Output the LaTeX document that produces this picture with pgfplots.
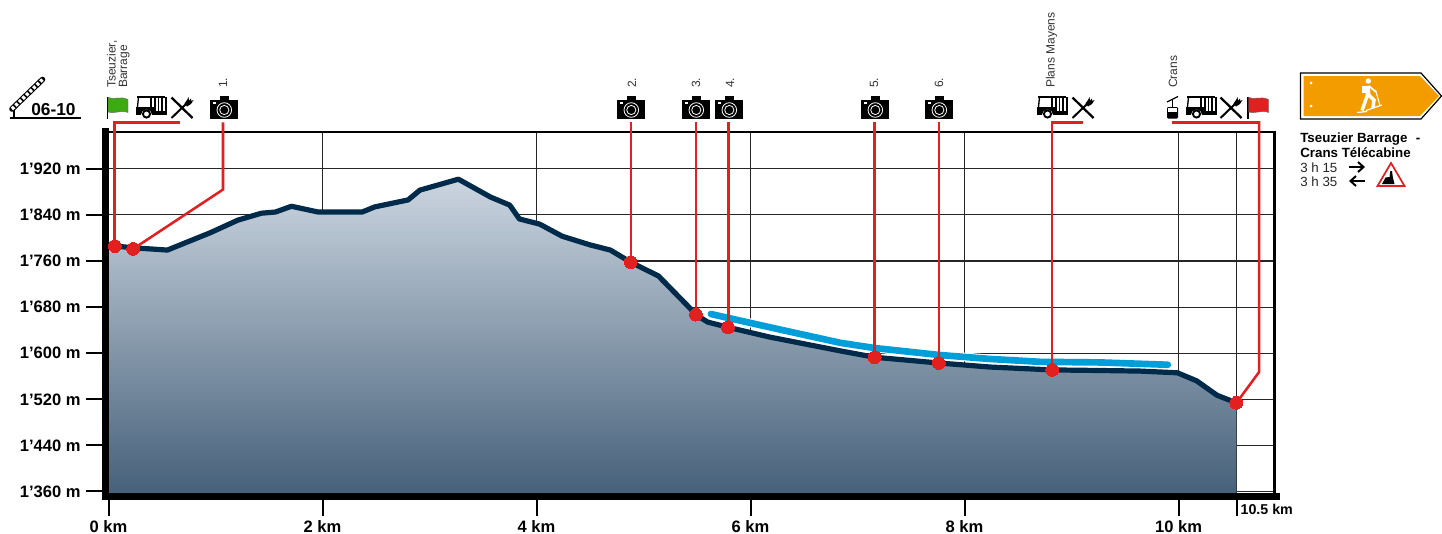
\documentclass[border=0pt]{standalone}
\usepackage{fontspec}
\setmainfont{Liberation Sans}
\usepackage{pgfplots}
\usepackage{pgfplotstable}
\pgfplotsset{compat=1.18}
\definecolor{navy}{HTML}{002A4A}
\definecolor{wblue}{HTML}{009FDA}
\definecolor{wred}{HTML}{E2201F}
\definecolor{topc}{HTML}{CBD5E0}
\definecolor{botc}{HTML}{456079}
\definecolor{signo}{HTML}{F39C00}
\definecolor{wgreen}{HTML}{3DAA12}
\pgfplotstableread{
km m
0 1788
0.06 1786
0.23 1783
0.55 1779
0.95 1809
1.21 1831
1.43 1843
1.56 1845
1.71 1855
1.96 1845
2.37 1845
2.49 1854
2.80 1866
2.91 1883
3.27 1902
3.57 1871
3.75 1857
3.84 1833
4.03 1824
4.24 1803
4.50 1788
4.69 1779
4.88 1758
5.14 1734
5.44 1677
5.48 1668
5.60 1654
5.79 1645
6.18 1628
6.84 1604
7.16 1593
7.76 1583
8.24 1576
8.82 1571
9.27 1570
9.64 1569
9.99 1566
10.17 1552
10.36 1527
10.54 1514
}\profile
\pgfplotstableread{
km m
5.63 1668
6.18 1645
6.84 1618
7.16 1609
7.76 1597
8.24 1590
8.71 1585
9.27 1584
9.90 1580
}\lake
\pgfplotstableread{
km m
0.06 1786
0.23 1781
4.88 1758
5.49 1667
5.79 1645
7.16 1593
7.76 1583
8.82 1571
10.54 1514
}\stops
\newcommand\camera[1]{\begin{scope}[shift={(#1,0)}]
\fill[black] (0,100) rectangle (28,119);
\fill[black] (9.5,96) rectangle (19,100.5);
\fill[white] (2.5,101.7) rectangle (6,104);
\draw[white,line width=.6pt] (14.3,110) circle (7.3) (14.3,110) circle (4.6);
\end{scope}}
\newcommand\bus[1]{\begin{scope}[shift={(#1,0)}]
\fill[black] (1,96) rectangle (29,98);
\draw[black,line width=1pt] (2.5,97) -- (1.5,107);
\fill[black] (0,106.5) rectangle (18,115);
\fill[black] (17,111) rectangle (30.5,115);
\foreach \q in {15,19,22.5,26,30}{\draw[black,line width=1pt] (\q,97) -- (\q,112);}
\fill[white] (10.5,115) circle (5.5);
\fill[black] (10.5,114) circle (4.6);
\fill[white] (10.5,114) circle (2.4);
\end{scope}}
\newcommand\cutlery[1]{\begin{scope}[shift={(#1,0)}]
\draw[black,line width=1.7pt] (0.5,97.5) -- (21.5,118);
\draw[black,line width=1.5pt] (0.5,118) -- (15,104);
\fill[black] (13.5,103.5) -- (16,100) -- (17.5,97) -- (18,100.5) -- (20,98.5) -- (20,101) -- (22.5,100) -- (20,104) -- (16,106.5) -- cycle;
\end{scope}}
\newcommand\flag[2]{\begin{scope}[shift={(#1,0)}]
\draw[black,line width=1pt] (0.5,97) -- (0.5,118.5);
\fill[#2,draw=black!60,line width=.3pt] (1,97.3) .. controls (6,100.5) and (13,95.5) .. (21,99.5) -- (21,112.5) .. controls (14,109.5) and (6,114.5) .. (1,112) -- cycle;
\end{scope}}
\begin{document}
\begin{tikzpicture}[x=0.75pt,y=-0.75pt]
\useasboundingbox (0,0) rectangle (1442,533);
\begin{axis}[
  at={(81.375pt,-372pt)},anchor=south west,
  scale only axis,width=874.5pt,height=273pt,
  xmin=0,xmax=10.897,ymin=1352.2,ymax=1983.9,
  clip=false,
  axis line style={draw=none},
  xtick pos=bottom,ytick pos=left,
  xtick={0,2,4,6,8,10},
  xticklabels={0 km,2 km,4 km,6 km,8 km,10 km},
  extra x ticks={10.54},
  extra x tick labels={10.5 km},
  extra x tick style={grid=major,xticklabel style={anchor=north west,xshift=3pt,yshift=12.3pt,font=\bfseries\fontsize{10.7pt}{12pt}\selectfont}},
  ytick={1360,1440,1520,1600,1680,1760,1840,1920},
  yticklabels={1’360 m,1’440 m,1’520 m,1’600 m,1’680 m,1’760 m,1’840 m,1’920 m},
  grid=major,
  grid style={black!85,line width=.8pt},
  tick align=outside,
  major tick length=15pt,
  tick label style={font=\bfseries\fontsize{12.4pt}{14pt}\selectfont},
  xticklabel style={inner sep=0pt,yshift=-3pt},
  yticklabel style={inner sep=0pt,xshift=-5.8pt},
]
\draw[black,line width=1.6pt] (axis cs:0,1983.9) -- (axis cs:10.897,1983.9) -- (axis cs:10.897,1352);
\addplot[draw=none,top color=topc,bottom color=botc] table[x=km,y=m]{\profile} \closedcycle;
\addplot[black,line width=5.25pt,forget plot] coordinates {(-0.028,1991.7) (-0.028,1345.2)};
\addplot[black,line width=5.6pt,forget plot] coordinates {(-0.061,1351.5) (10.948,1351.5)};
\addplot[white,line width=6.6pt,line cap=round] table[x=km,y=m]{\lake};
\addplot[navy,line width=3.9pt,line join=round] table[x=km,y=m]{\profile};
\addplot[wblue,line width=5pt,line cap=round,line join=round] table[x=km,y=m]{\lake};
\addplot[wred,line width=1.9pt] coordinates {(0.668,2000.4) (0.056,2000.4) (0.056,1786)};
\addplot[wred,line width=1.9pt] coordinates {(1.07,2000.4) (1.07,1884) (0.23,1781)};
\addplot[wred,line width=1.9pt] coordinates {(4.883,2000.4) (4.883,1758)};
\addplot[wred,line width=1.9pt] coordinates {(5.49,2000.4) (5.49,1667)};
\addplot[wred,line width=1.9pt] coordinates {(5.794,2000.4) (5.794,1645)};
\addplot[wred,line width=1.9pt] coordinates {(7.159,2000.4) (7.159,1593)};
\addplot[wred,line width=1.9pt] coordinates {(7.762,2000.4) (7.762,1583)};
\addplot[wred,line width=1.9pt] coordinates {(9.107,2000.4) (8.818,2000.4) (8.818,1571)};
\addplot[wred,line width=1.9pt] coordinates {(9.939,2000.4) (10.753,2000.4) (10.753,1567.4) (10.542,1514)};
\addplot[only marks,mark=*,mark size=4.8pt,mark options={fill=wred,draw=wred,line width=0pt}] table[x=km,y=m]{\stops};
\end{axis}
% axis tick marks
\foreach \q in {168.5,214.6,260.7,306.8,352.9,399,445.1,491.2}{\draw[black,line width=1.5pt] (86,\q) -- (103,\q);}
\foreach \q in {108.5,322.5,536.5,750.5,964.5,1178.5,1236.5}{\draw[black,line width=1.5pt] (\q,499) -- (\q,516);}
% barrier
\draw[black,line width=1.1pt] (10,118) -- (80.7,118);
\draw[black,line width=2.2pt] (14,108) -- (14,118);
\draw[black,line width=4.2pt,line cap=round] (12,109) -- (42.5,79.5);
\draw[white,line width=2.6pt,dash pattern=on 2.2pt off 1.5pt] (12,109) -- (42.5,79.5);
\node[anchor=base west,inner sep=0pt,font=\bfseries\fontsize{13pt}{14pt}\selectfont] at (31,115.5) {06-10};
% icons
\flag{107}{wgreen}
\bus{136}\cutlery{171}\camera{210}
\camera{617}\camera{682}\camera{715}\camera{861}\camera{925}
\bus{1037}\cutlery{1072}
\draw[black,line width=.9pt] (1167,102) -- (1178,96.5);
\draw[black,line width=.9pt] (1172.3,99) -- (1172.3,107);
\fill[black,rounded corners=.8pt] (1167,107) rectangle (1178,118.5);
\fill[white] (1168.2,108.2) rectangle (1176.8,111.5);
\bus{1186}\cutlery{1220}
\flag{1247.5}{wred}
% rotated labels
\tikzset{rl/.style={rotate=90,anchor=base west,inner sep=0pt,text=black!80,font=\fontsize{9pt}{10pt}\selectfont}}
\node[rl] at (115.7,88) {Tseuzier,};
\node[rl] at (127,88) {Barrage};
\node[rl] at (227,88) {1.};
\node[rl] at (636,88) {2.};
\node[rl] at (700,88) {3.};
\node[rl] at (734,88) {4.};
\node[rl] at (878,88) {5.};
\node[rl] at (943,88) {6.};
\node[rl] at (1054.5,88) {Plans Mayens};
\node[rl] at (1177,88) {Crans};
% sign
\draw[black,fill=white,line width=.9pt] (1300.5,73) -- (1421,73) -- (1441.5,96) -- (1421,119) -- (1300.5,119) -- cycle;
\fill[signo] (1303.5,76) -- (1420,76) -- (1439,96) -- (1420,116) -- (1303.5,116) -- cycle;
\fill[white] (1311,83) circle (1.5) (1311,106) circle (1.5);
\fill[white] (1368.3,81) circle (2.7);
\fill[white] (1361.5,85.5) rectangle (1365.5,93);
\draw[white,line width=3.6pt] (1367.5,86) -- (1368,95);
\draw[white,line width=1.3pt] (1369,86) -- (1376,92);
\draw[white,line width=.8pt] (1375.5,90) -- (1380,105.5);
\draw[white,line width=2.6pt] (1367.5,95) -- (1362,110.5);
\draw[white,line width=2.6pt] (1368.5,95) -- (1374,100) -- (1373,108);
\draw[white,line width=.9pt] (1357,112.5) -- (1367,111.5);
\draw[white,line width=.9pt] (1366,110.5) -- (1382,105);
% text
\tikzset{tb/.style={anchor=base west,inner sep=0pt,font=\bfseries\fontsize{10pt}{11pt}\selectfont},tr/.style={anchor=base west,inner sep=0pt,text=black!85,font=\fontsize{10pt}{11pt}\selectfont}}
\node[tb] at (1300,142) {Tseuzier Barrage};
\node[tb] at (1415.5,142) {-};
\node[tb] at (1300,157) {Crans Télécabine};
\node[tr] at (1300,172) {3 h 15};
\node[tr] at (1300,186) {3 h 35};
\draw[black,line width=1.5pt] (1349,167) -- (1363,167);
\draw[black,line width=1.5pt] (1358,162) -- (1363.5,167) -- (1358,172);
\draw[black,line width=1.5pt] (1351,181) -- (1364.5,181);
\draw[black,line width=1.5pt] (1356,176) -- (1350.5,181) -- (1356,186);
\draw[wred,fill=white,line width=1.3pt,line join=miter] (1391,163) -- (1404.5,186) -- (1377.5,186) -- cycle;
\fill[black] (1382,184) -- (1385.5,177.5) -- (1389.5,177) -- (1390.3,171) -- (1392,171) -- (1392.8,177) -- (1394.5,184) -- cycle;
\end{tikzpicture}
\end{document}
